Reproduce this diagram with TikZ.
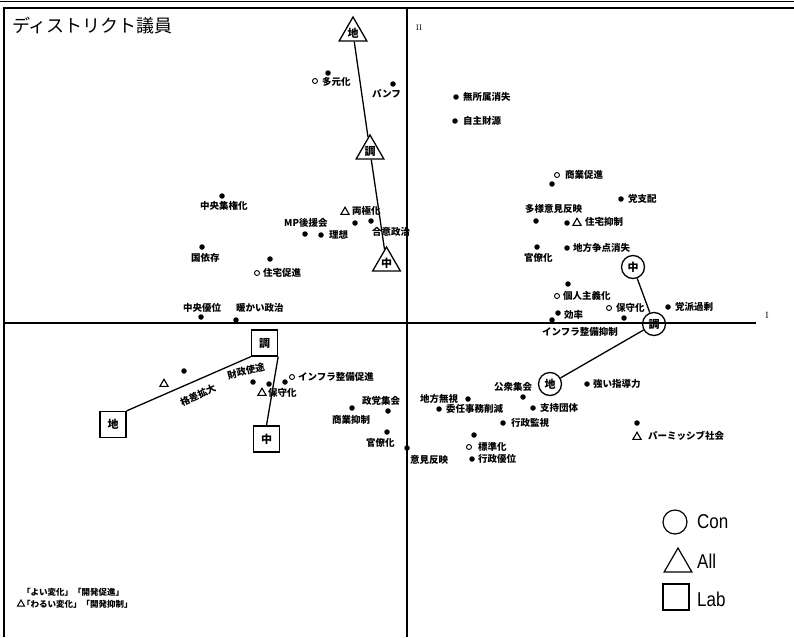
\documentclass[tikz,border=0pt]{standalone}
\usepackage{fontspec}
\usetikzlibrary{shapes.geometric}
\newfontfamily\jpf{Noto Sans CJK JP}
\newfontfamily\latf{Liberation Sans}[FakeStretch=0.85]
\begin{document}
\begin{tikzpicture}[x=1pt,y=-1pt,
  dot/.style={circle,fill,inner sep=0pt,minimum size=5.5pt},
  odot/.style={circle,draw,line width=0.9pt,inner sep=0pt,minimum size=5pt},
  mtri/.style={regular polygon,regular polygon sides=3,draw,line width=1.1pt,inner sep=0pt,minimum size=9.5pt},
  lbl/.style={font=\jpf\bfseries\fontsize{9.5}{10}\selectfont,inner sep=0pt,anchor=west},
  tinylbl/.style={font=\jpf\bfseries\fontsize{8.5}{9}\selectfont,inner sep=0pt,anchor=west},
  shapefont/.style={font=\jpf\bfseries\fontsize{11}{11}\selectfont},
  bigcirc/.style={circle,draw,line width=1.3pt,minimum size=23pt,inner sep=0pt,shapefont},
  bigtri/.style={regular polygon,regular polygon sides=3,draw,line width=1.3pt,minimum size=32pt,inner sep=0pt,shapefont},
  bigsq/.style={rectangle,draw,line width=1.3pt,minimum size=26pt,inner sep=0pt,shapefont},
  link/.style={line width=1.3pt},
  axisline/.style={line width=1.1pt},
  legtxt/.style={font=\latf\fontsize{20}{20}\selectfont,inner sep=0pt,anchor=west}]
\useasboundingbox (0,0) rectangle (794,637);
% frame
\coordinate (fa) at (0,1); \coordinate (fb) at (794,1);
\coordinate (fc) at (4,8); \coordinate (fd) at (794,8);
\coordinate (fe) at (4,637);
\draw[line width=1pt] (fa) -- (fb);
\draw[line width=1.1pt] (fe) -- (fc) -- (fd);
% axes
\coordinate (hx1) at (4,323); \coordinate (hx2) at (756,323);
\coordinate (vy1) at (407,8); \coordinate (vy2) at (407,637);
\draw[axisline] (hx1) -- (hx2);
\draw[axisline] (vy1) -- (vy2);
\node[font=\fontsize{8}{8}\selectfont,inner sep=0pt] (axII) at (419,28) {II};
\node[font=\fontsize{9}{9}\selectfont,inner sep=0pt] (axI) at (767,315) {I};
% title
\node[font=\jpf\fontsize{18}{18}\selectfont,inner sep=0pt,anchor=west] (title) at (12,26) {ディストリクト議員};

% big shapes: All (triangles)
\node[bigtri] (aD) at (353,33) {地};
\node[bigtri] (aT) at (370,151) {調};
\node[bigtri] (aC) at (386.5,263) {中};
\draw[link] (aD) -- (aT) -- (aC);
% Con (circles)
\node[bigcirc] (cC) at (633,267) {中};
\node[bigcirc] (cT) at (654,324) {調};
\node[bigcirc] (cD) at (550,384) {地};
\draw[link] (cC) -- (cT) -- (cD);
% Lab (squares)
\node[bigsq] (sT) at (264.5,343) {調};
\node[bigsq] (sD) at (113,424.5) {地};
\node[bigsq] (sC) at (266.5,439) {中};
\draw[link] (sD.north east) -- (sT.south west);
\draw[link] (sT.south east) -- (sC.north);

% dots
\node[dot] (d1) at (328,73) {};
\node[dot] (d2) at (393,84) {};
\node[dot] (d3) at (456,97) {};
\node[dot] (d4) at (455,121) {};
\node[dot] (d5) at (222,196) {};
\node[dot] (d6) at (305,234) {};
\node[dot] (d7) at (321,235) {};
\node[dot] (d8) at (355,223) {};
\node[dot] (d9) at (371,221) {};
\node[dot] (d10) at (202,247) {};
\node[dot] (d11) at (270,259) {};
\node[dot] (d12) at (201,317) {};
\node[dot] (d13) at (236,320) {};
\node[dot] (d14) at (552,184) {};
\node[dot] (d15) at (621,199) {};
\node[dot] (d16) at (536,221) {};
\node[dot] (d17) at (567,223) {};
\node[dot] (d18) at (537,247) {};
\node[dot] (d19) at (567,248) {};
\node[dot] (d20) at (568,284) {};
\node[dot] (d21) at (624,318) {};
\node[dot] (d22) at (668,307) {};
\node[dot] (d23) at (558,313) {};
\node[dot] (d24) at (552,320) {};
\node[dot] (d25) at (587,384) {};
\node[dot] (d26) at (523,397) {};
\node[dot] (d27) at (468,399) {};
\node[dot] (d28) at (439,409) {};
\node[dot] (d29) at (533,408) {};
\node[dot] (d30) at (503,423) {};
\node[dot] (d31) at (474,435) {};
\node[dot] (d32) at (472,459) {};
\node[dot] (d33) at (407,448) {};
\node[dot] (d34) at (387,432) {};
\node[dot] (d35) at (388,411) {};
\node[dot] (d36) at (352,408) {};
\node[dot] (d37) at (637,423) {};
\node[dot] (d38) at (184,371) {};
\node[dot] (d39) at (253,382) {};
\node[dot] (d40) at (269,384) {};
\node[dot] (d41) at (285,382) {};
% open circles
\node[odot] (o1) at (315,81) {};
\node[odot] (o2) at (257,273) {};
\node[odot] (o3) at (557,175) {};
\node[odot] (o4) at (557,296) {};
\node[odot] (o5) at (609,308) {};
\node[odot] (o6) at (469,447) {};
\node[odot] (o7) at (292,377) {};
% small triangles
\node[mtri] (m1) at (345,212) {};
\node[mtri] (m2) at (577,223) {};
\node[mtri] (m3) at (637,437) {};
\node[mtri] (m4) at (164,384) {};
\node[mtri] (m5) at (262,393) {};

% labels
\node[lbl] (t1) at (322,82) {多元化};
\node[lbl] (t2) at (372,94) {パンフ};
\node[lbl] (t3) at (463,97) {無所属消失};
\node[lbl] (t4) at (463,121) {自主財源};
\node[lbl] (t5) at (200,206) {中央集権化};
\node[lbl] (t6) at (352,211) {両極化};
\node[lbl] (t7) at (284,223) {MP後援会};
\node[lbl] (t8) at (329,235) {理想};
\node[lbl] (t9) at (372,232) {合意政治};
\node[lbl] (t10) at (191,258) {国依存};
\node[lbl] (t11) at (263,273) {住宅促進};
\node[lbl] (t12) at (183,308) {中央優位};
\node[lbl] (t13) at (236,308) {暖かい政治};
\node[lbl] (t14) at (565,175) {商業促進};
\node[lbl] (t15) at (628,199) {党支配};
\node[lbl] (t16) at (525,209) {多様意見反映};
\node[lbl] (t17) at (585,222) {住宅抑制};
\node[lbl] (t18) at (524,258) {官僚化};
\node[lbl] (t19) at (573,248) {地方争点消失};
\node[lbl] (t20) at (563,296) {個人主義化};
\node[lbl] (t21) at (616,308) {保守化};
\node[lbl] (t22) at (675,307) {党派過剰};
\node[lbl] (t23) at (564,315) {効率};
\node[lbl] (t24) at (542,332) {インフラ整備抑制};
\node[lbl] (t25) at (593,384) {強い指導力};
\node[lbl] (t26) at (494,387) {公衆集会};
\node[lbl] (t27) at (420,399) {地方無視};
\node[lbl] (t28) at (446,409) {委任事務削減};
\node[lbl] (t29) at (540,408) {支持団体};
\node[lbl] (t30) at (511,423) {行政監視};
\node[lbl] (t31) at (478,447) {標準化};
\node[lbl] (t32) at (478,459) {行政優位};
\node[lbl] (t33) at (410,460) {意見反映};
\node[lbl] (t34) at (366,443) {官僚化};
\node[lbl] (t35) at (362,401) {政党集会};
\node[lbl] (t36) at (332,420) {商業抑制};
\node[lbl] (t37) at (648,436) {パーミッシブ社会};
\node[lbl] (t38) at (298,377) {インフラ整備促進};
\node[lbl] (t39) at (268,393) {保守化};
\node[lbl,anchor=center,rotate=25] (t40) at (198,395) {格差拡大};
\node[lbl,anchor=center,rotate=14] (t41) at (246,371) {財政使途};

% bottom-left legend
\node[tinylbl] (k1) at (22,592) {「よい変化」「開発促進」};
\node[mtri,minimum size=8pt,line width=1pt] (m6) at (21,604) {};
\node[tinylbl] (k2) at (22,604) {「わるい変化」「開発抑制」};

% bottom-right legend
\node[circle,draw,line width=1.2pt,minimum size=24pt,inner sep=0pt] (lgC) at (675,522) {};
\node[legtxt] (lgCt) at (697,522) {Con};
\node[regular polygon,regular polygon sides=3,draw,line width=1.2pt,minimum size=32pt,inner sep=0pt] (lgA) at (678,564) {};
\node[legtxt] (lgAt) at (697,561) {All};
\node[rectangle,draw,line width=1.2pt,minimum size=26pt,inner sep=0pt] (lgL) at (676,597) {};
\node[legtxt] (lgLt) at (697,599) {Lab};
\end{tikzpicture}
\end{document}
